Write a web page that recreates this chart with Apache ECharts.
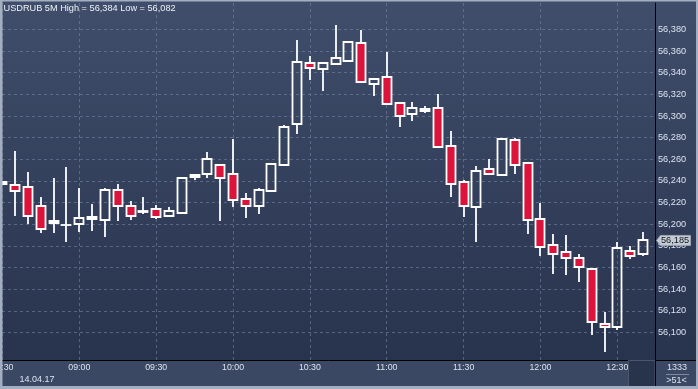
<!DOCTYPE html>
<html>
<head>
<meta charset="utf-8">
<script src="https://cdn.jsdelivr.net/npm/echarts@6/dist/echarts.min.js"></script>
<style>
html,body{margin:0;padding:0;background:#34415c;}
#chart{width:698px;height:389px;}
</style>
</head>
<body>
<div id="chart"></div>
<script>
// ---- data ----
const symbol = 'USDRUB';
const timeframe = '5M';
const dateLabel = '14.04.17';
const totalBars = 1333;
const visibleBars = 51;

const opens = [
  56.237,56.236,56.234,56.217,56.201,56.199,56.200,56.205,56.204,56.232,
  56.217,56.211,56.214,56.208,56.210,56.244,56.246,56.255,56.246,56.223,
  56.217,56.231,56.255,56.293,56.349,56.343,56.348,56.351,56.367,56.330,
  56.336,56.312,56.302,56.305,56.307,56.272,56.239,56.216,56.251,56.245,
  56.278,56.257,56.205,56.181,56.174,56.169,56.159,56.108,56.105,56.175,56.172
];
const closes = [
  56.239,56.231,56.208,56.196,56.203,56.199,56.206,56.207,56.232,56.217,
  56.208,56.212,56.207,56.212,56.243,56.245,56.260,56.243,56.222,56.217,
  56.232,56.256,56.290,56.350,56.344,56.349,56.354,56.368,56.331,56.334,
  56.311,56.300,56.307,56.306,56.271,56.237,56.217,56.249,56.246,56.279,
  56.255,56.204,56.179,56.172,56.169,56.160,56.110,56.105,56.178,56.171,56.185
];
const lows = [
  56.237,56.208,56.200,56.192,56.192,56.184,56.193,56.194,56.188,56.203,
  56.204,56.209,56.205,56.208,56.210,56.241,56.243,56.203,56.216,56.206,
  56.209,56.231,56.254,56.283,56.333,56.323,56.348,56.351,56.331,56.318,
  56.310,56.290,56.295,56.303,56.270,56.225,56.207,56.184,56.246,56.245,
  56.246,56.191,56.171,56.154,56.153,56.147,56.098,56.082,56.102,56.168,56.171
];
const highs = [
  56.239,56.268,56.248,56.225,56.243,56.253,56.233,56.219,56.233,56.237,
  56.221,56.225,56.218,56.216,56.244,56.245,56.267,56.256,56.279,56.229,
  56.233,56.257,56.292,56.370,56.355,56.350,56.384,56.368,56.379,56.335,
  56.359,56.312,56.313,56.309,56.320,56.286,56.241,56.254,56.260,56.280,
  56.280,56.257,56.220,56.191,56.190,56.172,56.159,56.119,56.184,56.180,56.193
];
const xTickIndex  = [0, 6, 12, 18, 24, 30, 36, 42, 48];
const xTickLabels = ['08:30','09:00','09:30','10:00','10:30','11:00','11:30','12:00','12:30'];
const yTickValues = [56.10,56.12,56.14,56.16,56.18,56.20,56.22,56.24,56.26,56.28,56.30,56.32,56.34,56.36,56.38];

// ---- chart ----
const fmt = v => v.toFixed(3).replace('.', ',');
const FONT = '"Liberation Sans", Arial, sans-serif';
const LABEL = '#dbe3f0';
const GRID = 'rgba(120,138,170,0.55)';
const UP_FILL = 'rgba(0,0,0,0)';
const DOWN_FILL = '#dc143c';
const EDGE = '#ffffff';
const LW = 1.8;

const candleData = opens.map((o, i) => [i, o, closes[i], lows[i], highs[i]]);
const hi = Math.max(...highs), lo = Math.min(...lows);
const lastClose = closes[closes.length - 1];

function renderCandle(params, api) {
  const x = api.value(0), o = api.value(1), c = api.value(2), l = api.value(3), h = api.value(4);
  const pO = api.coord([x, o]), pC = api.coord([x, c]);
  const pL = api.coord([x, l]), pH = api.coord([x, h]);
  const w = Math.round(api.size([1, 0])[0] * 0.68);
  const cx = Math.round(pO[0]);
  const top = Math.round(Math.min(pO[1], pC[1]));
  const bot = Math.round(Math.max(pO[1], pC[1]));
  const up = c >= o;
  const st = {stroke: EDGE, lineWidth: LW};
  return {
    type: 'group',
    children: [
      {type: 'line', shape: {x1: cx, y1: Math.round(pH[1]), x2: cx, y2: top}, style: st},
      {type: 'line', shape: {x1: cx, y1: bot, x2: cx, y2: Math.round(pL[1])}, style: st},
      {type: 'rect', shape: {x: cx - w / 2, y: top, width: w, height: Math.max(bot - top, 0.01)},
        style: {fill: up ? UP_FILL : DOWN_FILL, stroke: EDGE, lineWidth: LW}}
    ]
  };
}

const chart = echarts.init(document.getElementById('chart'), null, {renderer: 'canvas'});

const H = 389;
chart.setOption({
  animation: false,
  backgroundColor: {
    type: 'linear', x: 0, y: 0, x2: 0, y2: 1,
    colorStops: [
      {offset: 0, color: '#404e6b'},
      {offset: 360 / H, color: '#28334d'},
      {offset: 360.5 / H, color: '#3b4864'},
      {offset: 1, color: '#3b4864'}
    ]
  },
  grid: {left: 2, right: 43, top: 3, bottom: 29, containLabel: false, outerBoundsMode: 'none'},
  xAxis: {
    type: 'value', min: -0.034, max: 50.94, position: 'bottom',
    axisLine: {show: true, onZero: false, lineStyle: {color: '#000', width: 1}},
    axisTick: {show: false, customValues: xTickIndex},
    axisLabel: {
      customValues: xTickIndex,
      formatter: v => xTickLabels[xTickIndex.indexOf(Math.round(v))] || '',
      color: LABEL, fontSize: 8.8, fontFamily: FONT, margin: 3
    },
    splitLine: {show: true, lineStyle: {color: GRID, type: [3, 3], width: 1}}
  },
  yAxis: {
    type: 'value', position: 'right', min: 56.0745, max: 56.4044,
    axisLine: {show: true, onZero: false, lineStyle: {color: '#000', width: 1}},
    axisTick: {show: false, customValues: yTickValues},
    axisLabel: {
      customValues: yTickValues, formatter: v => fmt(v),
      color: LABEL, fontSize: 9.2, fontFamily: FONT, margin: 3, align: 'left'
    },
    splitLine: {show: true, lineStyle: {color: GRID, type: [3, 3], width: 1}}
  },
  series: [{
    type: 'custom',
    name: symbol,
    data: candleData,
    encode: {x: 0, y: [1, 2, 3, 4]},
    renderItem: renderCandle,
    clip: true,
    silent: true
  }]
});

const yc = chart.convertToPixel({yAxisIndex: 0}, lastClose);
const txt = (id, x, y, text, size, color, align) => ({
  type: 'text', id, z: 200, x, y,
  style: {text, fill: color, font: size + 'px ' + FONT, textAlign: align || 'left', textVerticalAlign: 'middle'}
});

chart.setOption({
  graphic: [
    {type: 'rect', id: 'thumb', z: 150, shape: {x: 628.5, y: 360.5, width: 26.5, height: 26}, style: {fill: '#28334c', stroke: '#4a566e', lineWidth: 1}},
    {type: 'line', id: 'vext', z: 150, shape: {x1: 655.5, y1: 360, x2: 655.5, y2: 387}, style: {stroke: '#000', lineWidth: 1}},
    {type: 'line', id: 'hext', z: 150, shape: {x1: 655, y1: 360.5, x2: 696, y2: 360.5}, style: {stroke: '#000', lineWidth: 1}},
    {type: 'rect', id: 'frameL', z: 300, shape: {x: 0, y: 0, width: 2.5, height: 389}, style: {fill: '#a3aec0'}},
    {type: 'rect', id: 'frameR', z: 300, shape: {x: 696, y: 0, width: 2, height: 389}, style: {fill: '#a3aec0'}},
    {type: 'rect', id: 'frameT', z: 300, shape: {x: 0, y: 0, width: 698, height: 1.5}, style: {fill: '#a3aec0'}},
    {type: 'rect', id: 'frameB', z: 300, shape: {x: 0, y: 386, width: 698, height: 3}, style: {fill: '#a3aec0'}},
    txt('title', 3.5, 8, symbol + ' ' + timeframe + ' High = ' + fmt(hi) + ' Low = ' + fmt(lo), 9.2, '#eef2f8'),
    txt('date', 37, 380, dateLabel, 9, LABEL, 'center'),
    txt('total', 677, 367.5, String(totalBars), 9, LABEL, 'center'),
    {type: 'line', id: 'sep', z: 200, shape: {x1: 666, y1: 374.5, x2: 689, y2: 374.5}, style: {stroke: '#7d899e', lineWidth: 1}},
    txt('vis', 676.5, 380.5, '>' + visibleBars + '<', 9, LABEL, 'center'),
    {type: 'polygon', id: 'tag', z: 200,
      shape: {points: [[656.5, yc], [660.5, yc - 5], [690.5, yc - 5], [690.5, yc + 5], [660.5, yc + 5]]},
      style: {fill: '#c6cbd3', stroke: '#9aa2b0', lineWidth: 1}},
    txt('tagtxt', 661, yc + 0.3, fmt(lastClose), 9.2, '#111822')
  ]
});
</script>
</body>
</html>
